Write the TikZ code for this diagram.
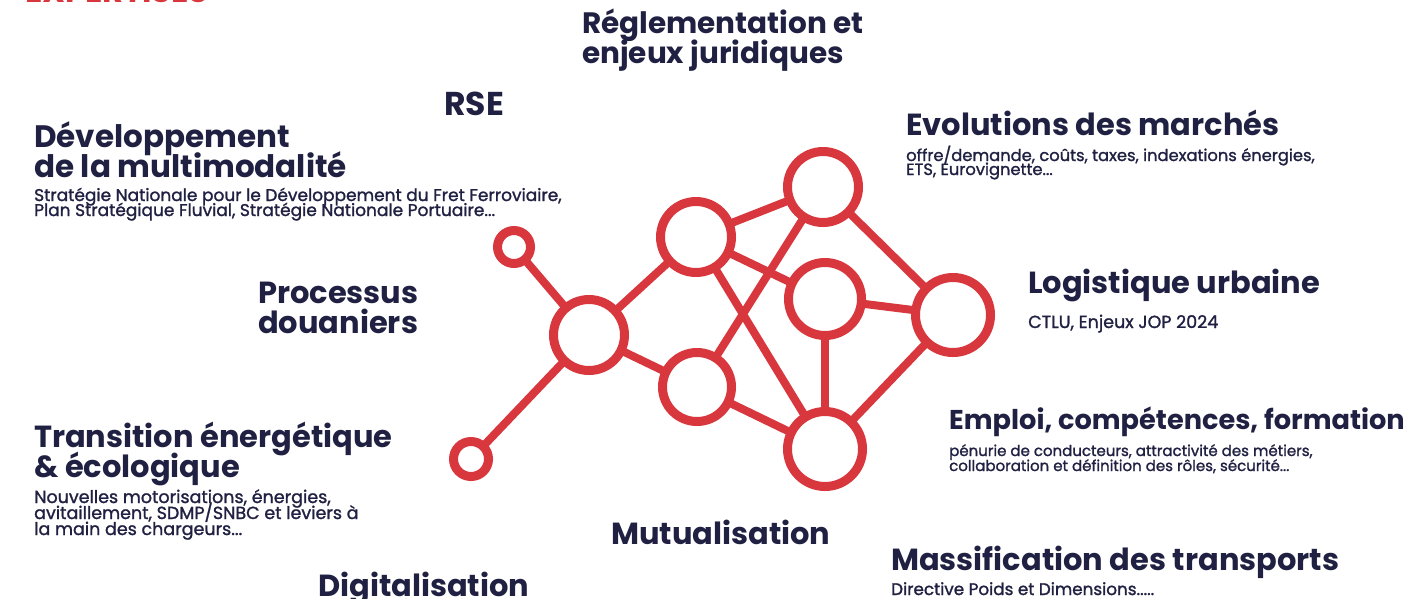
\documentclass[tikz,border=0pt]{standalone}
\usepackage{fontspec}
\setmainfont{Poppins}
\newfontfamily\subfont{Poppins}[FakeBold=1.4]
\definecolor{netred}{RGB}{217,55,62}
\definecolor{ink}{RGB}{32,33,66}

\begin{document}
\begin{tikzpicture}[x=1pt,y=-1pt,
  hub/.style={draw=netred,circle,line width=9pt,inner sep=0pt},
  link/.style={draw=netred,line width=8pt,shorten <=-2pt,shorten >=-2pt},
  ttl/.style={anchor=base west,inner sep=0pt,align=left,text=ink,
    font={\bfseries\fontsize{#1}{30}\selectfont\lineskiplimit=-50pt}},
  ttl/.default=30.5,
  sub/.style={anchor=base west,inner sep=0pt,align=left,text=ink,
    font={\subfont\fontsize{#1}{15}\selectfont\lineskiplimit=-50pt}},
  sub/.default=16.5]
\clip (0,0) rectangle (1412,598);

% network
\node[hub,minimum size=33pt] (s1) at (514,247) {};
\node[hub,minimum size=71pt] (l)  at (589,335) {};
\node[hub,minimum size=35pt] (s2) at (471,459) {};
\node[hub,minimum size=71pt] (um) at (696,237) {};
\node[hub,minimum size=69pt] (lm) at (697,387) {};
\node[hub,minimum size=71pt] (tr) at (823,187) {};
\node[hub,minimum size=73pt] (cr) at (825,299) {};
\node[hub,minimum size=75pt] (r)  at (953,315) {};
\node[hub,minimum size=75pt] (b)  at (825,449) {};
\draw[link] (s1)--(l); \draw[link] (l)--(s2);
\draw[link] (l)--(um); \draw[link] (l)--(lm);
\draw[link] (um)--(tr); \draw[link] (um)--(cr); \draw[link] (um)--(b);
\draw[link] (lm)--(tr); \draw[link] (lm)--(b);
\draw[link] (tr)--(r); \draw[link] (cr)--(r); \draw[link] (cr)--(b);
\draw[link] (b)--(r);

% headings (base = last line)
\node[ttl=32,text=netred] (expe) at (25,2) {EXPERTISES};
\node[ttl=29.5] (regl) at (582,63) {Réglementation et\\enjeux juridiques};
\node[ttl=33] (rse) at (444,115) {RSE};
\node[ttl=31] (dev) at (34,177) {Développement\\de la multimodalité};
\node[ttl] (evo) at (906,135) {Evolutions des marchés};
\node[ttl] (proc) at (258,333) {Processus\\douaniers};
\node[ttl] (logi) at (1028,293) {Logistique urbaine};
\node[ttl=27.2] (emp) at (949,429) {Emploi, compétences, formation};
\node[ttl] (trans) at (34,477) {Transition énergétique\\\& écologique};
\node[ttl] (mutu) at (611,544) {Mutualisation};
\node[ttl] (mass) at (891,570) {Massification des transports};
\node[ttl] (digi) at (318,596) {Digitalisation};

% details
\node[sub=17] (dev-s) at ([yshift=-39pt]dev.base west) {Stratégie Nationale pour le Développement du Fret Ferroviaire,\\Plan Stratégique Fluvial, Stratégie Nationale Portuaire...};
\node[sub=16.3,font={\subfont\fontsize{16.3}{14}\selectfont\lineskiplimit=-50pt}] (evo-s) at ([yshift=-40pt]evo.base west) {offre/demande, coûts, taxes, indexations énergies,\\ETS, Eurovignette...};
\node[sub=17.5] (logi-s) at ([yshift=-35pt]logi.base west) {CTLU, Enjeux JOP 2024};
\node[sub=15] (emp-s) at ([yshift=-42pt]emp.base west) {pénurie de conducteurs, attractivité des métiers,\\collaboration et définition des rôles, sécurité...};
\node[sub=17.5,font={\subfont\fontsize{17.5}{16}\selectfont\lineskiplimit=-50pt}] (trans-s) at ([yshift=-58pt]trans.base west) {Nouvelles motorisations, énergies,\\avitaillement, SDMP/SNBC et leviers à\\la main des chargeurs...};
\node[sub=16.8] (mass-s) at ([yshift=-25pt]mass.base west) {Directive Poids et Dimensions.....};
\end{tikzpicture}
\end{document}
